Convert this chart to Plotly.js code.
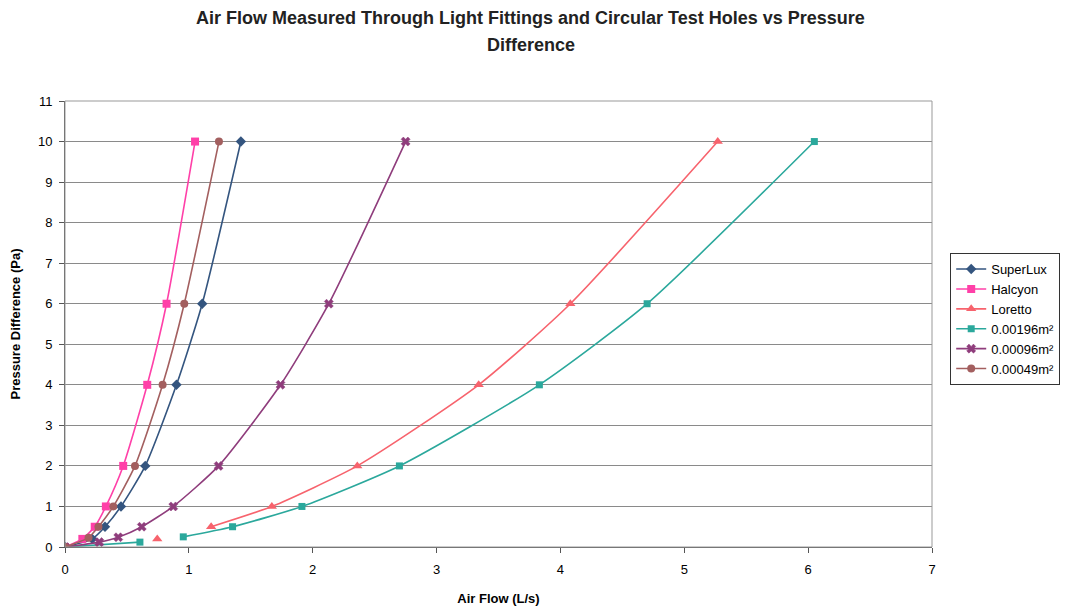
<!DOCTYPE html>
<html><head><meta charset="utf-8">
<script src="https://cdn.plot.ly/plotly-3.0.1.min.js"></script>
<style>html,body{margin:0;padding:0;background:#fff}</style>
</head><body><div id="chart" style="width:1066px;height:608px"></div>
<script>
const seriesNames = ["SuperLux","Halcyon","Loretto","0.00196m²","0.00096m²","0.00049m²"];
const superLuxX = [0, 0.22, 0.323, 0.452, 0.648, 0.90, 1.108, 1.42];
const superLuxY = [0, 0.2, 0.5, 1, 2, 4, 6, 10];
const halcyonX = [0, 0.14, 0.24, 0.33, 0.47, 0.664, 0.82, 1.05];
const halcyonY = [0, 0.2, 0.5, 1, 2, 4, 6, 10];
const lorettoX = [0.745, null, 1.18, 1.67, 2.36, 3.34, 4.08, 5.27];
const lorettoY = [0.2, null, 0.5, 1, 2, 4, 6, 10];
const hole196X = [0, 0.605, null, 0.955, 1.353, 1.913, 2.70, 3.83, 4.70, 6.05];
const hole196Y = [0, 0.12, null, 0.25, 0.5, 1, 2, 4, 6, 10];
const hole096X = [0, 0.277, 0.43, 0.62, 0.874, 1.24, 1.74, 2.13, 2.75];
const hole096Y = [0, 0.12, 0.24, 0.5, 1, 2, 4, 6, 10];
const hole049X = [0, 0.19, 0.27, 0.39, 0.565, 0.788, 0.963, 1.243];
const hole049Y = [0, 0.23, 0.5, 1, 2, 4, 6, 10];
const titleLines = ["Air Flow Measured Through Light Fittings and Circular Test Holes vs Pressure", "Difference"];

const xs = [superLuxX, halcyonX, lorettoX, hole196X, hole096X, hole049X];
const ys = [superLuxY, halcyonY, lorettoY, hole196Y, hole096Y, hole049Y];
const colors = ["#34557f", "#ff40a8", "#f7636d", "#2ba89c", "#8f3d7c", "#a35f5f"];
const symbols = ["diamond", "square", "triangle-up", "square", "x", "circle"];
const sizes = [8, 8, 9, 7, 8, 8];

const traces = seriesNames.map((n, i) => ({
  type: "scatter", mode: "lines+markers", name: n,
  x: xs[i], y: ys[i], connectgaps: false,
  line: {color: colors[i], width: 1.6, shape: "spline", smoothing: 0.6},
  marker: {color: colors[i], symbol: symbols[i], size: sizes[i],
           line: {width: symbols[i] === "x" ? 0.5 : 0, color: colors[i]}}
}));

const layout = {
  width: 1066, height: 608,
  margin: {l: 65, r: 134, t: 101, b: 61, autoexpand: false},
  paper_bgcolor: "#fff", plot_bgcolor: "#fff",
  font: {family: "Liberation Sans, Arial, sans-serif", size: 13, color: "#000"},
  annotations: [
    {text: "<b>" + titleLines[0] + "</b>", xref: "paper", yref: "paper", x: 0.537, y: (547 - 18) / 446,
     xanchor: "center", yanchor: "middle", showarrow: false, font: {size: 18, color: "#222"}},
    {text: "<b>" + titleLines[1] + "</b>", xref: "paper", yref: "paper", x: 0.537, y: (547 - 45) / 446,
     xanchor: "center", yanchor: "middle", showarrow: false, font: {size: 18, color: "#222"}}
  ],
  xaxis: {range: [0, 7], dtick: 1, showgrid: false, zeroline: false,
          showline: true, linecolor: "#555", linewidth: 1, mirror: false,
          ticks: "outside", ticklen: 5, tickcolor: "#555", ticklabelstandoff: 5,
          title: {text: "<b>Air Flow (L/s)</b>", font: {size: 13}, standoff: 18},
          tickfont: {size: 13}},
  yaxis: {range: [0, 11], dtick: 1, showgrid: true, gridcolor: "#8a8a8a", gridwidth: 1,
          zeroline: false, showline: true, linecolor: "#555", linewidth: 1,
          ticks: "outside", ticklen: 5, tickcolor: "#555", ticklabelstandoff: 4,
          title: {text: "<b>Pressure Difference (Pa)</b>", font: {size: 13}, standoff: 14},
          tickfont: {size: 13}},
  shapes: [{type: "rect", xref: "paper", yref: "paper", x0: 0, x1: 1, y0: 0, y1: 1,
            line: {color: "#999", width: 1}}],
  legend: {x: 1.021, xanchor: "left", y: 0.659, yanchor: "top",
           bordercolor: "#333", borderwidth: 1, bgcolor: "#fff",
           font: {size: 13}, tracegroupgap: 0, itemwidth: 30},
  showlegend: true
};
Plotly.newPlot("chart", traces, layout, {displayModeBar: false, staticPlot: true});
</script></body></html>
